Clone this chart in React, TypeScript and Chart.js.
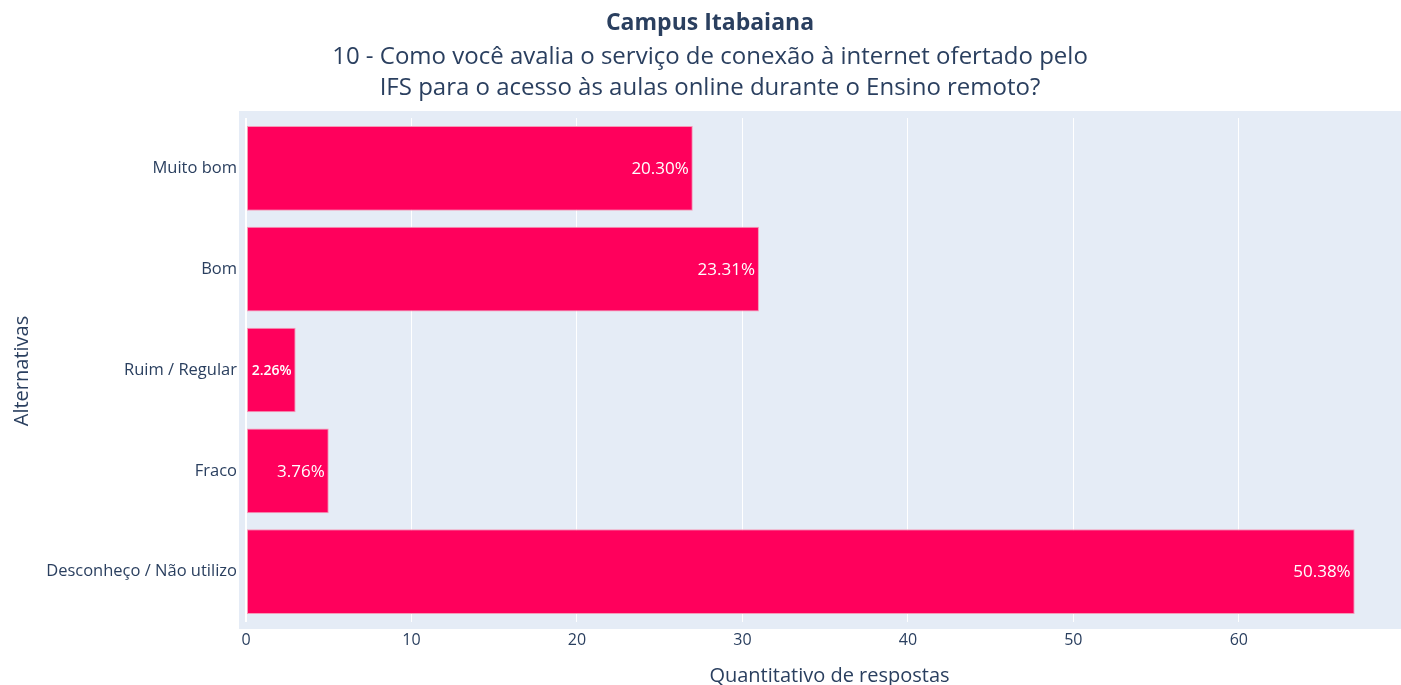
import React, { useEffect, useRef } from "react";
import { Chart, registerables } from "chart.js";

Chart.register(...registerables);

const categories = ["Muito bom", "Bom", "Ruim / Regular", "Fraco", "Desconheço / Não utilizo"];
const responses = [27, 31, 3, 5, 67];
const percentLabels = ["20.30%", "23.31%", "2.26%", "3.76%", "50.38%"];
const titleLines = [
  "10 - Como você avalia o serviço de conexão à internet ofertado pelo",
  "IFS para o acesso às aulas online durante o Ensino remoto?",
];
const mainTitle = "Campus Itabaiana";
const xTitle = "Quantitativo de respostas";
const yTitle = "Alternativas";

const FONT = "'Open Sans', sans-serif";
const TEXT = "#2a3f5f";

export default function App() {
  const ref = useRef<HTMLCanvasElement | null>(null);

  useEffect(() => {
    if (!ref.current) return;

    const bgPlugin = {
      id: "bgPlugin",
      beforeDraw(chart: any) {
        const { ctx, chartArea } = chart;
        ctx.save();
        ctx.fillStyle = "#e5ecf6";
        ctx.fillRect(chartArea.left - 7, chartArea.top - 7, chart.width - (chartArea.left - 7), chartArea.bottom - chartArea.top + 14);
        ctx.restore();
      },
    };

    const textPlugin = {
      id: "textPlugin",
      afterDatasetsDraw(chart: any) {
        const { ctx } = chart;
        const meta = chart.getDatasetMeta(0);
        ctx.save();
        ctx.fillStyle = "#ffffff";
        ctx.textAlign = "right";
        ctx.textBaseline = "middle";
        meta.data.forEach((bar: any, i: number) => {
          const label = percentLabels[i];
          const barW = bar.x - bar.base;
          let size = 17;
          ctx.font = `${size}px ${FONT}`;
          let w = ctx.measureText(label).width;
          if (w + 8 > barW) {
            size = Math.floor(size * (barW - 8) / w);
            ctx.font = `600 ${size}px ${FONT}`;
          }
          ctx.fillText(label, bar.x - 4, bar.y + 1);
        });
        ctx.restore();
      },
      afterDraw(chart: any) {
        const { ctx } = chart;
        ctx.save();
        ctx.fillStyle = TEXT;
        ctx.textAlign = "center";
        ctx.textBaseline = "middle";
        ctx.font = `bold 23px ${FONT}`;
        ctx.fillText(mainTitle, 710, 23);
        ctx.font = `24px ${FONT}`;
        titleLines.forEach((l, i) => ctx.fillText(l, 710, 57 + i * 31));
        ctx.font = `20px ${FONT}`;
        ctx.fillText(xTitle, 829.5, 676);
        ctx.translate(22, 371);
        ctx.rotate(-Math.PI / 2);
        ctx.fillText(yTitle, 0, 0);
        ctx.restore();
      },
    };

    const chart = new Chart(ref.current, {
      type: "bar",
      data: {
        labels: categories,
        datasets: [
          {
            data: responses,
            backgroundColor: "#ff005c",
            borderColor: "#f59ab8",
            borderWidth: 1,
            borderSkipped: false,
            barPercentage: 0.84,
            categoryPercentage: 1,
          },
        ],
      },
      options: {
        indexAxis: "y",
        animation: false,
        responsive: false,
        maintainAspectRatio: false,
        layout: { padding: { top: 118, left: 0, right: 0, bottom: 0 } },
        plugins: { legend: { display: false }, tooltip: { enabled: false }, title: { display: false } },
        scales: {
          x: {
            type: "linear",
            min: 0,
            max: 69.8,
            afterBuildTicks(scale: any) {
              scale.ticks = scale.ticks.filter((t: any) => t.value % 10 === 0);
            },
            ticks: { stepSize: 10, color: TEXT, font: { family: FONT, size: 16 }, padding: 9 },
            grid: {
              color: "#ffffff",
              lineWidth: (c: any) => (c.tick && c.tick.value === 0 ? 2 : 1),
              drawTicks: false,
            },
            border: { display: false },
            afterFit(scale: any) {
              scale.height = 63;
            },
          },
          y: {
            type: "category",
            offset: true,
            ticks: { color: TEXT, font: { family: FONT, size: 16.5 }, padding: 9 },
            grid: { display: false, drawTicks: false },
            border: { display: false },
            afterFit(scale: any) {
              scale.width = 246;
            },
          },
        },
      },
      plugins: [bgPlugin, textPlugin],
    });
    return () => chart.destroy();
  }, []);

  return (
    <div style={{ position: "fixed", left: 0, top: 0, width: 1401, height: 685, background: "#fff" }}>
      <canvas ref={ref} width={1401} height={685} style={{ width: 1401, height: 685, display: "block" }} />
    </div>
  );
}
